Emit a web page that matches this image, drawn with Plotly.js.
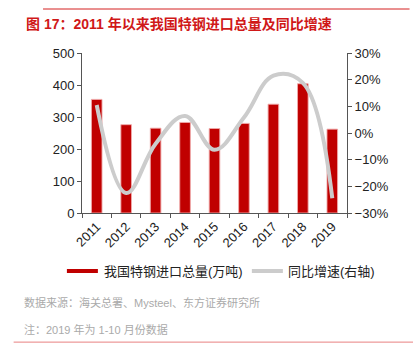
<!DOCTYPE html>
<html><head><meta charset="utf-8">
<script src="https://cdn.plot.ly/plotly-3.0.1.min.js"></script>
<style>html,body{margin:0;padding:0;background:#fff;}#chart{width:413px;height:348px;}</style>
</head><body><div id="chart"></div>
<script>
const years = ['2011','2012','2013','2014','2015','2016','2017','2018','2019'];
const importVolume = [355, 276, 265, 283, 264, 280, 340, 404, 262];
const yoyGrowth = [10.5, -22.5, -4, 6.4, -6.3, 5.8, 21.5, 18.8, -24.5];
const barName = '我国特钢进口总量(万吨)';
const lineName = '同比增速(右轴)';
const titleText = '图 17：2011 年以来我国特钢进口总量及同比增速';
const sourceText = '数据来源：海关总署、Mysteel、东方证券研究所';
const noteText = '注：2019 年为 1-10 月份数据';

const FONT = 'Liberation Sans, Arial, Noto Sans CJK SC, sans-serif';
const RED = '#c00000';
const GRAY = '#cccccc';

const traces = [
  {type:'bar', x:years, y:importVolume, name:barName, width:0.36,
   marker:{color:RED, line:{color:'rgba(240,170,170,0.9)', width:1}}, showlegend:false},
  {type:'scatter', mode:'lines', x:years, y:yoyGrowth, name:lineName, yaxis:'y2',
   line:{color:GRAY, width:4, shape:'spline', smoothing:1.1}, showlegend:false}
];

const axisCommon = {showline:true, linecolor:'#555', linewidth:1, ticks:'outside', ticklen:4,
  tickcolor:'#555', showgrid:false, zeroline:false, tickfont:{size:13, color:'#222', family:FONT}};

const layout = {
  width:413, height:348,
  margin:{l:82, r:66, t:53, b:135},
  paper_bgcolor:'#fff', plot_bgcolor:'#fff',
  font:{family:FONT},
  bargap:0.5,
  xaxis:Object.assign({}, axisCommon, {type:'category', tickangle:-45, tickson:'boundaries',
    tickfont:{size:13, color:'#222', family:FONT}}),
  yaxis:Object.assign({}, axisCommon, {range:[0,500], dtick:100}),
  yaxis2:Object.assign({}, axisCommon, {overlaying:'y', side:'right', range:[-30,30], dtick:10, ticksuffix:'%'}),
  shapes:[
    {type:'line', xref:'paper', yref:'paper', x0:-0.147, x1:1.236, y0:1.275, y1:1.275, line:{color:'#d42020', width:1}},
    {type:'line', xref:'paper', yref:'paper', x0:-0.258, x1:1.25, y0:-0.807, y1:-0.807, line:{color:'#e88080', width:1}},
    {type:'rect', xref:'paper', yref:'paper', x0:-0.057, x1:0.06, y0:-0.35, y1:-0.375, fillcolor:RED, line:{width:0}},
    {type:'line', xref:'paper', yref:'paper', x0:0.641, x1:0.758, y0:-0.3625, y1:-0.3625, line:{color:GRAY, width:4}}
  ],
  annotations:[
    {text:'<b>' + titleText + '</b>', xref:'paper', yref:'paper', x:-0.22, y:1.18, xanchor:'left', yanchor:'middle', showarrow:false,
     font:{size:14, color:'#d01818', family:'Liberation Sans, Noto Sans CJK SC'}},
    {text:barName, xref:'paper', yref:'paper', x:0.075, y:-0.3625, xanchor:'left', yanchor:'middle', showarrow:false,
     font:{size:13, color:'#222', family:FONT}},
    {text:lineName, xref:'paper', yref:'paper', x:0.77, y:-0.3625, xanchor:'left', yanchor:'middle', showarrow:false,
     font:{size:13, color:'#222', family:FONT}},
    {text:sourceText, xref:'paper', yref:'paper', x:-0.225, y:-0.56, xanchor:'left', yanchor:'middle', showarrow:false,
     font:{size:11, color:'#aaa', family:FONT}},
    {text:noteText, xref:'paper', yref:'paper', x:-0.225, y:-0.73, xanchor:'left', yanchor:'middle', showarrow:false,
     font:{size:11, color:'#aaa', family:FONT}}
  ]
};

Plotly.newPlot('chart', traces, layout, {displayModeBar:false, staticPlot:true});
</script></body></html>
